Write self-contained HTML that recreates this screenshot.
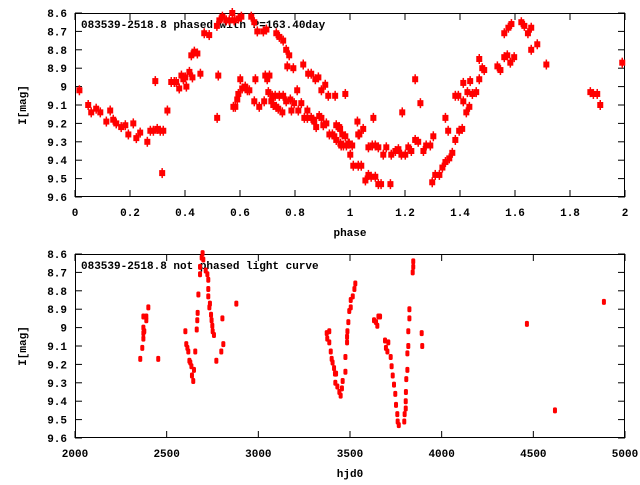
<!DOCTYPE html>
<html><head><meta charset="utf-8"><style>
body{margin:0;background:#fff}
svg text{font-family:"Liberation Mono",monospace;font-size:11px;font-weight:bold;fill:#000}
</style></head><body>
<svg id="c" width="640" height="480" viewBox="0 0 640 480">
<rect width="640" height="480" fill="#fff"/>
</svg>
<script>
const topPhase=[0.016,0.048,0.059,0.077,0.092,0.114,0.128,0.139,0.150,0.168,0.183,0.194,0.212,0.223,0.237,0.263,0.274,0.285,0.299,0.310,0.321,0.292,0.317,0.336,0.350,0.361,0.368,0.379,0.387,0.394,0.401,0.405,0.416,0.427,0.423,0.434,0.445,0.456,0.470,0.488,0.516,0.521,0.517,0.525,0.536,0.550,0.561,0.572,0.576,0.583,0.579,0.590,0.594,0.594,0.605,0.601,0.608,0.619,0.627,0.634,0.641,0.652,0.652,0.656,0.663,0.670,0.685,0.688,0.692,0.696,0.699,0.707,0.703,0.714,0.717,0.721,0.728,0.732,0.732,0.743,0.739,0.743,0.754,0.757,0.757,0.768,0.768,0.779,0.783,0.787,0.772,0.794,0.797,0.808,0.812,0.823,0.830,0.834,0.845,0.848,0.845,0.859,0.859,0.867,0.874,0.870,0.877,0.885,0.888,0.896,0.896,0.903,0.910,0.914,0.921,0.925,0.936,0.943,0.946,0.950,0.950,0.961,0.965,0.972,0.976,0.983,0.983,0.994,1.001,1.008,1.012,1.027,1.030,1.030,0.964,0.968,0.987,0.997,1.034,1.041,1.048,1.056,1.067,1.077,1.092,1.103,1.113,1.147,1.067,1.081,1.092,1.103,1.085,1.121,1.132,1.150,1.165,1.176,1.187,1.201,1.190,1.212,1.223,1.237,1.237,1.248,1.256,1.267,1.277,1.292,1.303,1.299,1.310,1.325,1.336,1.347,1.361,1.372,1.383,1.347,1.357,1.397,1.408,1.423,1.434,1.412,1.383,1.394,1.412,1.427,1.437,1.445,1.459,1.470,1.470,1.481,1.488,1.536,1.547,1.561,1.572,1.583,1.597,1.561,1.576,1.587,1.623,1.634,1.647,1.659,1.659,1.681,1.714,1.874,1.885,1.899,1.910,1.990];
const topMag=[9.02,9.10,9.14,9.12,9.14,9.19,9.13,9.18,9.20,9.22,9.21,9.26,9.20,9.28,9.25,9.30,9.24,9.24,9.23,9.24,9.24,8.97,9.47,9.13,8.975,8.975,8.975,9.01,8.94,8.96,8.95,9.00,8.92,8.95,8.83,8.81,8.82,8.93,8.71,8.72,8.67,8.94,9.17,8.64,8.62,8.64,8.64,8.60,9.11,9.11,8.64,9.07,9.04,8.63,8.62,8.96,9.01,9.00,9.02,9.02,8.62,8.65,9.08,8.96,8.70,9.11,8.70,9.08,8.94,8.69,8.96,8.94,9.03,9.08,9.05,9.10,9.05,9.11,8.71,8.73,9.12,9.05,9.14,8.75,9.05,8.80,9.08,8.83,9.07,9.13,8.89,8.90,9.09,9.02,9.13,9.09,8.88,9.17,9.13,8.93,9.17,8.93,9.17,9.18,8.96,9.19,9.22,8.95,9.16,9.02,9.17,9.21,8.99,9.20,9.05,9.26,9.26,9.27,9.05,9.21,9.29,9.22,9.31,9.26,9.32,9.04,9.27,9.31,9.37,9.32,9.43,9.19,9.26,9.43,9.23,9.32,9.32,9.31,9.26,9.43,9.23,9.51,9.48,9.49,9.49,9.53,9.53,9.53,9.33,9.32,9.32,9.33,9.17,9.37,9.33,9.37,9.35,9.34,9.37,9.37,9.14,9.33,9.35,8.96,9.29,9.30,9.09,9.35,9.32,9.32,9.27,9.52,9.48,9.48,9.44,9.41,9.39,9.36,9.29,9.17,9.24,9.24,9.23,9.14,9.11,9.08,9.05,9.05,8.98,9.03,8.97,9.04,9.03,8.96,8.85,8.90,8.91,8.89,8.91,8.84,8.83,8.87,8.84,8.71,8.68,8.66,8.65,8.67,8.71,8.68,8.80,8.77,8.88,9.03,9.04,9.04,9.10,8.87];
const botHjd=[2400,2373,2389,2389,2373,2378,2373,2373,2367,2356,2454,2602,2607,2613,2618,2624,2629,2635,2649,2638,2645,2656,2664,2667,2669,2673,2682,2682,2691,2696,2700,2713,2722,2727,2727,2727,2736,2733,2742,2745,2749,2751,2758,2804,2809,2798,2771,2880,3373,3376,3387,3387,3395,3400,3405,3413,3418,3424,3420,3431,3442,3449,3456,3460,3475,3475,3484,3484,3486,3491,3496,3504,3504,3515,3524,3529,3631,3642,3649,3655,3664,3691,3709,3696,3704,3722,3727,3733,3740,3747,3751,3758,3760,3766,3796,3798,3804,3804,3805,3807,3813,3813,3818,3818,3824,3824,3842,3845,3845,3891,3894,4465,4618,4885];
const botMag=[8.89,8.94,8.94,8.96,9.00,9.02,9.03,9.06,9.11,9.17,9.17,9.02,9.09,9.11,9.13,9.18,9.19,9.21,9.23,9.26,9.29,9.13,9.01,8.96,8.92,8.82,8.71,8.67,8.62,8.595,8.63,8.69,8.71,8.74,8.79,8.83,8.87,8.89,8.93,8.96,8.99,9.02,9.04,8.95,9.09,9.13,9.18,8.87,9.03,9.06,9.02,9.08,9.13,9.17,9.19,9.22,9.25,9.25,9.30,9.32,9.35,9.37,9.33,9.29,9.24,9.16,9.08,9.05,9.02,8.97,8.91,8.89,8.85,8.83,8.79,8.76,8.96,8.97,8.99,8.94,8.94,9.07,9.08,9.11,9.13,9.16,9.21,9.26,9.31,9.36,9.42,9.47,9.51,9.53,9.51,9.47,9.44,9.40,9.35,9.28,9.23,9.14,9.10,9.02,8.95,8.90,8.70,8.67,8.64,9.03,9.10,8.98,9.45,8.86];
const yTicks=["8.6","8.7","8.8","8.9","9","9.1","9.2","9.3","9.4","9.5","9.6"];
const topXTicks=["0","0.2","0.4","0.6","0.8","1","1.2","1.4","1.6","1.8","2"];
const botXTicks=["2000","2500","3000","3500","4000","4500","5000"];

const NS="http://www.w3.org/2000/svg";
const svg=document.getElementById('c');
function mk(tag,attrs,parent){const e=document.createElementNS(NS,tag);for(const k in attrs)e.setAttribute(k,attrs[k]);(parent||svg).appendChild(e);return e;}
const L=75,R=625;
const tx=p=>L+(p-0)/2*(R-L);
const bx=h=>L+(h-2000)/3000*(R-L);
const ty=m=>13+(m-8.6)*184;
const by=m=>254+(m-8.6)*184;

function panel(name,top,bottom,xTicks,xFn,xVals,yFn,xlabel,title){
  const g=mk('g',{});
  
  
  yTicks.forEach(t=>{
    const y=yFn(parseFloat(t));
    const l=mk('line',{x1:L,x2:L+7,y1:y,y2:y,stroke:'#000'},g);
    
    
    mk('line',{x1:R-7,x2:R,y1:y,y2:y,stroke:'#000'},g);
    const tt=mk('text',{x:L-8,y:y+4,'text-anchor':'end'},g);
    
    
    tt.textContent=t;
  });
  xTicks.forEach((t,i)=>{
    const x=xFn(xVals[i]);
    const l=mk('line',{x1:x,x2:x,y1:bottom,y2:bottom-7,stroke:'#000'},g);
    
    
    mk('line',{x1:x,x2:x,y1:top,y2:top+7,stroke:'#000'},g);
    const tt=mk('text',{x:x,y:bottom+19,'text-anchor':'middle'},g);
    
    
    tt.textContent=t;
  });
  const f=mk('rect',{x:L+0.5,y:top+0.5,width:R-L-1,height:bottom-top-1,fill:'none',stroke:'#000'},g);
  
  
  const xl=mk('text',{x:(L+R)/2,y:bottom+39,'text-anchor':'middle'},g);
  
  
  xl.textContent=xlabel;
  const cy=(top+bottom)/2;
  const yl=mk('text',{x:26,y:cy,'text-anchor':'middle',transform:`rotate(-90 26 ${cy})`},g);
  
  
  yl.textContent='I[mag]';
  const ti=mk('text',{x:81,y:top+15},g);
  
  
  ti.textContent=title;
  return g;
}
const g1=panel('phased-panel',13,197,topXTicks,tx,topXTicks.map(Number),ty,'phase','083539-2518.8 phased with P=163.40day');
const g2=panel('unphased-panel',254,438,botXTicks,bx,botXTicks.map(Number),by,'hjd0','083539-2518.8 not phased light curve');

topPhase.forEach((p,i)=>{
  const x=tx(p),y=ty(topMag[i]);
  const r=mk('rect',{x:x-3,y:y-3,width:6,height:6,fill:'#f00'},g1);
  
  
  mk('line',{x1:x,x2:x,y1:y-5,y2:y+5,stroke:'#f00','stroke-width':1.5},g1);
});
botHjd.forEach((h,i)=>{
  const x=bx(h),y=by(botMag[i]);
  const r=mk('rect',{x:x-2,y:y-3,width:4,height:6,rx:1.5,fill:'#f00'},g2);
  
  
});
</script>
</body></html>
